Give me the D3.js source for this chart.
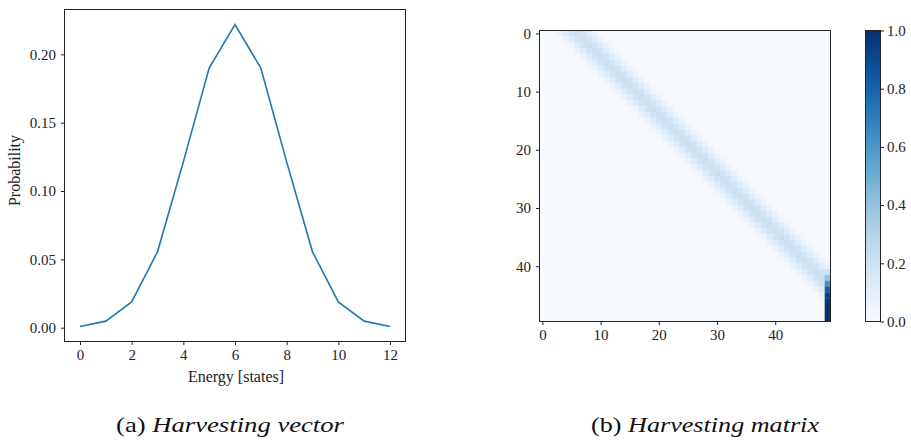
<!DOCTYPE html>
<html lang="en">
<head>
<meta charset="utf-8">
<script src="https://d3js.org/d3.v7.min.js"></script>
<style>
    body { margin: 0; background: white; }
    svg { font-family: "Liberation Serif", serif; }
    .tick text { font-family: "Liberation Serif", serif; font-size: 15px; fill: #222; }
    .domain { stroke: none; }
    .tick line { stroke: #222; }
</style>
</head>
<body>
<svg id="fig" width="911" height="441"></svg>
<script>
// harvesting vector
var energy = [0, 1, 2, 3, 4, 5, 6, 7, 8, 9, 10, 11, 12];
var prob = [0.0009, 0.0048, 0.0189, 0.0555, 0.1213, 0.190, 0.2218, 0.190, 0.1213, 0.0555, 0.0189, 0.0048, 0.0009];
var xTicksA = [0, 2, 4, 6, 8, 10, 12];
var yTicksA = [0, 0.05, 0.10, 0.15, 0.20];

// harvesting matrix: each row is the vector shifted one state, overflow kept in the last state
var nStates = 50;
var matTicks = [0, 10, 20, 30, 40];
var cbTicks = [0, 0.2, 0.4, 0.6, 0.8, 1.0];

var matrix = [];
for (var i = 0; i < nStates; i++) {
    for (var k = 0; k < prob.length; k++) {
        var j = Math.min(i + k, nStates - 1);
        var cell = matrix.find(function (c) { return c.row === i && c.col === j; });
        if (cell) cell.val += prob[k];
        else matrix.push({ row: i, col: j, val: prob[k] });
    }
}

var svg = d3.select("#fig");

// ---------- (a) line plot ----------
var a = { left: 64.5, top: 9.5, width: 341, height: 332 };
var gA = svg.append("g").attr("transform", "translate(" + a.left + "," + a.top + ")");

var x = d3.scaleLinear().domain([-0.6, 12.6]).range([0, a.width]);
var y = d3.scaleLinear().domain([-0.0101, 0.2328]).range([a.height, 0]);

gA.append("g")
    .attr("transform", "translate(0," + a.height + ")")
    .call(d3.axisBottom(x).tickValues(xTicksA).tickSize(3.5).tickPadding(4).tickFormat(d3.format("d")));
gA.append("g")
    .call(d3.axisLeft(y).tickValues(yTicksA).tickSize(3.5).tickPadding(5).tickFormat(d3.format(".2f")));

gA.append("path")
    .datum(energy)
    .attr("fill", "none")
    .attr("stroke", "#1f77b4")
    .attr("stroke-width", 1.6)
    .attr("d", d3.line()
        .x(function (d) { return x(d); })
        .y(function (d, i) { return y(prob[i]); }));

gA.append("rect")
    .attr("width", a.width).attr("height", a.height)
    .attr("fill", "none").attr("stroke", "#222").attr("stroke-width", 1);

gA.append("text")
    .attr("x", a.width / 2 + 1).attr("y", a.height + 40)
    .attr("text-anchor", "middle")
    .style("font-size", "16px").style("fill", "#222")
    .text("Energy [states]");
gA.append("text")
    .attr("transform", "rotate(-90)")
    .attr("x", -a.height / 2 + 5).attr("y", -45)
    .attr("text-anchor", "middle")
    .style("font-size", "16px").style("fill", "#222")
    .text("Probability");

// ---------- (b) heat map ----------
var b = { left: 539.5, top: 30.5, width: 291, height: 291 };
var gB = svg.append("g").attr("transform", "translate(" + b.left + "," + b.top + ")");

var mx = d3.scaleLinear().domain([-0.5, nStates - 0.5]).range([0, b.width]);
var my = d3.scaleLinear().domain([-0.5, nStates - 0.5]).range([0, b.height]);
var color = d3.scaleSequential(d3.interpolateBlues).domain([0, 1]);

gB.append("rect")
    .attr("width", b.width).attr("height", b.height)
    .attr("fill", color(0));

gB.selectAll("rect.cell")
    .data(matrix)
    .enter()
    .append("rect")
    .attr("class", "cell")
    .attr("x", function (d) { return mx(d.col - 0.5); })
    .attr("y", function (d) { return my(d.row - 0.5); })
    .attr("width", mx(1) - mx(0) + 0.3)
    .attr("height", my(1) - my(0) + 0.3)
    .attr("fill", function (d) { return color(d.val); });

gB.append("g")
    .attr("transform", "translate(0," + b.height + ")")
    .call(d3.axisBottom(mx).tickValues(matTicks).tickSize(3.5).tickPadding(4));
gB.append("g")
    .call(d3.axisLeft(my).tickValues(matTicks).tickSize(3.5).tickPadding(5));

gB.append("rect")
    .attr("width", b.width).attr("height", b.height)
    .attr("fill", "none").attr("stroke", "#222").attr("stroke-width", 1);

// colour bar
var cb = { left: 865.5, top: 30.5, width: 15, height: 291 };
var defs = svg.append("defs");
var grad = defs.append("linearGradient")
    .attr("id", "blues")
    .attr("x1", "0").attr("y1", "1").attr("x2", "0").attr("y2", "0");
d3.range(0, 1.0001, 0.05).forEach(function (t) {
    grad.append("stop").attr("offset", t).attr("stop-color", color(t));
});

var gC = svg.append("g").attr("transform", "translate(" + cb.left + "," + cb.top + ")");
var cy = d3.scaleLinear().domain([0, 1]).range([cb.height, 0]);
gC.append("rect")
    .attr("width", cb.width).attr("height", cb.height)
    .attr("fill", "url(#blues)");
gC.append("g")
    .attr("transform", "translate(" + cb.width + ",0)")
    .call(d3.axisRight(cy).tickValues(cbTicks).tickSize(3.5).tickPadding(3).tickFormat(d3.format(".1f")));
gC.append("rect")
    .attr("width", cb.width).attr("height", cb.height)
    .attr("fill", "none").attr("stroke", "#222").attr("stroke-width", 1);

// captions
var captions = [
    { cx: 230, label: "(a) ", title: "Harvesting vector" },
    { cx: 705, label: "(b) ", title: "Harvesting matrix" }
];
captions.forEach(function (c) {
    var t = svg.append("text")
        .attr("x", c.cx).attr("y", 432)
        .attr("text-anchor", "middle")
        .attr("textLength", 228)
        .attr("lengthAdjust", "spacingAndGlyphs")
        .style("font-size", "21px").style("fill", "#111");
    t.append("tspan").text(c.label);
    t.append("tspan").style("font-style", "italic").text(c.title);
});
</script>
</body>
</html>
